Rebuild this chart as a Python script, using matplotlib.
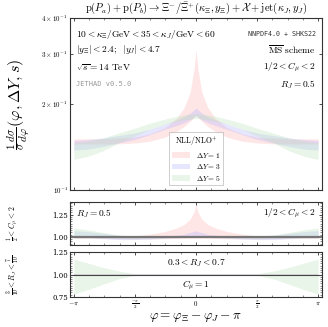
import numpy as np
import matplotlib
matplotlib.use("Agg")
import matplotlib.pyplot as plt
from matplotlib.patches import Patch
from matplotlib.ticker import FixedLocator, NullLocator, MultipleLocator

plt.rcParams['mathtext.fontset'] = 'cm'
plt.rcParams['font.family'] = ['DejaVu Serif']

# ---------------- data ----------------
phi = [-3.1416, -2.8, -2.4, -2.0, -1.6, -1.2, -0.8, -0.5, -0.3, -0.15, -0.05, 0.0,
       0.05, 0.15, 0.3, 0.5, 0.8, 1.2, 1.6, 2.0, 2.4, 2.8, 3.1416]

dy1_hi = [0.151, 0.151, 0.151, 0.152, 0.153, 0.157, 0.165, 0.178, 0.195, 0.220, 0.265, 0.310,
          0.265, 0.220, 0.195, 0.178, 0.165, 0.157, 0.153, 0.152, 0.151, 0.151, 0.151]
dy1_lo = [0.145, 0.145, 0.145, 0.145, 0.146, 0.148, 0.153, 0.160, 0.167, 0.174, 0.180, 0.183,
          0.180, 0.174, 0.167, 0.160, 0.153, 0.148, 0.146, 0.145, 0.145, 0.145, 0.145]
dy3_hi = [0.149, 0.150, 0.152, 0.155, 0.158, 0.163, 0.170, 0.176, 0.181, 0.186, 0.191, 0.194,
          0.191, 0.186, 0.181, 0.176, 0.170, 0.163, 0.158, 0.155, 0.152, 0.150, 0.149]
dy3_lo = [0.138, 0.139, 0.142, 0.146, 0.150, 0.156, 0.163, 0.168, 0.172, 0.176, 0.180, 0.182,
          0.180, 0.176, 0.172, 0.168, 0.163, 0.156, 0.150, 0.146, 0.142, 0.139, 0.138]
dy5_hi = [0.146, 0.148, 0.152, 0.158, 0.164, 0.171, 0.177, 0.181, 0.183, 0.184, 0.185, 0.185,
          0.185, 0.184, 0.183, 0.181, 0.177, 0.171, 0.164, 0.158, 0.152, 0.148, 0.146]
dy5_lo = [0.128, 0.131, 0.137, 0.146, 0.154, 0.163, 0.170, 0.174, 0.176, 0.177, 0.178, 0.178,
          0.178, 0.177, 0.176, 0.174, 0.170, 0.163, 0.154, 0.146, 0.137, 0.131, 0.128]

# ratio: 1/2 < C_mu < 2
mu1_hi = [1.000, 1.000, 1.000, 1.005, 1.010, 1.030, 1.060, 1.100, 1.140, 1.200, 1.280, 1.370,
          1.280, 1.200, 1.140, 1.100, 1.060, 1.030, 1.010, 1.005, 1.000, 1.000, 1.000]
mu1_lo = [0.985, 0.985, 0.983, 0.980, 0.978, 0.978, 0.980, 0.982, 0.984, 0.985, 0.985, 0.985,
          0.985, 0.985, 0.984, 0.982, 0.980, 0.978, 0.978, 0.980, 0.983, 0.985, 0.985]
mu3_hi = [1.070, 1.060, 1.040, 1.020, 1.010, 1.010, 1.010, 1.020, 1.030, 1.050, 1.060, 1.070,
          1.060, 1.050, 1.030, 1.020, 1.010, 1.010, 1.010, 1.020, 1.040, 1.060, 1.070]
mu3_lo = [0.990, 0.990, 0.980, 0.970, 0.970, 0.975, 0.985, 0.990, 0.995, 1.000, 1.000, 1.000,
          1.000, 1.000, 0.995, 0.990, 0.985, 0.975, 0.970, 0.970, 0.980, 0.990, 0.990]
mu5_hi = [1.100, 1.080, 1.050, 1.020, 1.005, 1.000, 1.000, 1.000, 1.000, 1.000, 1.000, 1.000,
          1.000, 1.000, 1.000, 1.000, 1.000, 1.000, 1.005, 1.020, 1.050, 1.080, 1.100]
mu5_lo = [1.000, 0.995, 0.990, 0.985, 0.980, 0.985, 0.990, 0.995, 0.995, 0.995, 0.995, 0.995,
          0.995, 0.995, 0.995, 0.995, 0.990, 0.985, 0.980, 0.985, 0.990, 0.995, 1.000]

# ratio: 0.3 < R_J < 0.7
rj1_hi = [1.005] * 23
rj1_lo = [0.995] * 23
rj3_hi = [1.010] * 23
rj3_lo = [0.990] * 23
rj5_hi = [1.170, 1.130, 1.080, 1.040, 1.010, 1.010, 1.010, 1.010, 1.010, 1.010, 1.010, 1.010,
          1.010, 1.010, 1.010, 1.010, 1.010, 1.010, 1.010, 1.040, 1.080, 1.130, 1.170]
rj5_lo = [0.780, 0.830, 0.890, 0.950, 0.990, 0.990, 0.990, 0.990, 0.990, 0.990, 0.990, 0.990,
          0.990, 0.990, 0.990, 0.990, 0.990, 0.990, 0.990, 0.950, 0.890, 0.830, 0.780]

labels = [r"$\Delta Y = 1$", r"$\Delta Y = 3$", r"$\Delta Y = 5$"]
colors = ['#ffb3b3', '#b3b3ff', '#b8e0b8']
alpha = 0.32

xticks = [-np.pi, -np.pi / 2, 0, np.pi / 2, np.pi]
xticklabels = [r"$-\pi$", r"$\frac{-\pi}{2}$", r"$0$", r"$\frac{\pi}{2}$", r"$\pi$"]

# ---------------- figure ----------------
fig = plt.figure(figsize=(3.28, 3.27), dpi=100)
L, W = 0.213, 0.769
ax = fig.add_axes([L, 0.419, W, 0.526])
ax2 = fig.add_axes([L, 0.251, W, 0.131])
ax3 = fig.add_axes([L, 0.092, W, 0.137])

frame_col = '#333333'


def style(a):
    a.set_xlim(-3.245, 3.245)
    for s in a.spines.values():
        s.set_color(frame_col)
        s.set_linewidth(0.8)
    a.tick_params(which='both', direction='in', top=True, right=True,
                  colors=frame_col, labelcolor='black', labelsize=5, pad=1.5)
    a.tick_params(which='major', length=2.5, width=0.6)
    a.tick_params(which='minor', length=1.3, width=0.4)
    a.xaxis.set_major_locator(FixedLocator(xticks))
    a.xaxis.set_minor_locator(MultipleLocator(np.pi / 8))


# main
ups = [dy1_hi, dy3_hi, dy5_hi]
los = [dy1_lo, dy3_lo, dy5_lo]
for hi, lo, c in zip(ups, los, colors):
    ax.fill_between(phi, lo, hi, color=c, alpha=alpha, lw=0)
style(ax)
ax.set_yscale('log')
ax.set_ylim(0.1, 0.4)
ax.yaxis.set_major_locator(FixedLocator([0.1, 0.2, 0.3, 0.4]))
ax.set_yticklabels([r"$10^{-1}$", r"$2\times10^{-1}$", r"$3\times10^{-1}$", r"$4\times10^{-1}$"])
ax.yaxis.set_minor_locator(NullLocator())
ax.set_xticklabels([])
ax.set_ylabel(r"$\frac{1}{\sigma}\frac{d\sigma}{d\varphi}(\varphi, \Delta Y, s)$", fontsize=11.5)

ax.set_title(r"$\mathrm{p}(P_a) + \mathrm{p}(P_b) \to \Xi^{-}/\bar{\Xi}^{+}(\kappa_\Xi, y_\Xi) + \mathcal{X} + \mathrm{jet}(\kappa_J, y_J)$",
             fontsize=7.6, pad=5)

tk = dict(transform=ax.transAxes, fontsize=6.8, va='center')
ax.text(0.025, 0.905, r"$10 < \kappa_\Xi/\mathrm{GeV} < 35 < \kappa_J/\mathrm{GeV} < 60$", ha='left', **tk)
ax.text(0.025, 0.815, r"$|y_\Xi| < 2.4;\;\; |y_J| < 4.7$", ha='left', **tk)
ax.text(0.025, 0.71, r"$\sqrt{s} = 14\ \mathrm{TeV}$", ha='left', **tk)
ax.text(0.025, 0.615, "JETHAD v0.5.0", ha='left', transform=ax.transAxes, fontsize=5,
        va='center', family='DejaVu Sans Mono', color='#999999')
ax.text(0.975, 0.905, "NNPDF4.0 + SHKS22", ha='right', transform=ax.transAxes, fontsize=4.8,
        va='center', family='DejaVu Sans Mono', color='#333333')
ax.text(0.975, 0.815, r"$\overline{\mathrm{MS}}\ \mathrm{scheme}$", ha='right', **tk)
ax.text(0.975, 0.71, r"$1/2 < C_\mu < 2$", ha='right', **tk)
ax.text(0.975, 0.615, r"$R_J = 0.5$", ha='right', **tk)

handles = [Patch(facecolor=c, alpha=alpha, edgecolor='none') for c in colors]
leg = ax.legend(handles, labels, loc='lower center', bbox_to_anchor=(0.5, 0.005),
                title=r"$\mathrm{NLL/NLO}^{+}$", fontsize=5.4, title_fontsize=5.6,
                frameon=True, fancybox=False, edgecolor='#aaaaaa', handlelength=2.4,
                handleheight=0.8, labelspacing=0.35, borderpad=0.35, handletextpad=0.8)
leg.get_frame().set_linewidth(0.5)

# middle ratio
for hi, lo, c in zip([mu1_hi, mu3_hi, mu5_hi], [mu1_lo, mu3_lo, mu5_lo], colors):
    ax2.fill_between(phi, lo, hi, color=c, alpha=alpha, lw=0)
ax2.axhline(1.0, color='#777777', lw=1.6)
style(ax2)
ax2.set_ylim(0.91, 1.39)
ax2.yaxis.set_major_locator(FixedLocator([1.0, 1.25]))
ax2.yaxis.set_minor_locator(MultipleLocator(0.025))
ax2.set_yticklabels(["1.00", "1.25"])
ax2.set_xticklabels([])
ax2.set_ylabel(r"$\frac{1}{2} < C_\mu < 2$", fontsize=5.5)
ax2.text(0.025, 0.74, r"$R_J = 0.5$", transform=ax2.transAxes, fontsize=6.8, ha='left', va='center')
ax2.text(0.975, 0.74, r"$1/2 < C_\mu < 2$", transform=ax2.transAxes, fontsize=6.8, ha='right', va='center')

# bottom ratio
for hi, lo, c in zip([rj1_hi, rj3_hi, rj5_hi], [rj1_lo, rj3_lo, rj5_lo], colors):
    ax3.fill_between(phi, lo, hi, color=c, alpha=alpha, lw=0)
ax3.axhline(1.0, color='#444444', lw=0.8)
style(ax3)
ax3.set_ylim(0.75, 1.25)
ax3.yaxis.set_major_locator(FixedLocator([0.75, 1.0, 1.25]))
ax3.yaxis.set_minor_locator(MultipleLocator(0.025))
ax3.set_yticklabels(["0.75", "1.00", "1.25"])
ax3.set_xticklabels(xticklabels)
ax3.set_ylabel(r"$\frac{3}{10} < R_J < \frac{7}{10}$", fontsize=5.5)
ax3.text(0.5, 0.76, r"$0.3 < R_J < 0.7$", transform=ax3.transAxes, fontsize=6.8, ha='center', va='center')
ax3.text(0.5, 0.25, r"$C_\mu = 1$", transform=ax3.transAxes, fontsize=6.8, ha='center', va='center')
ax3.set_xlabel(r"$\varphi = \varphi_\Xi - \varphi_J - \pi$", fontsize=9.5, labelpad=0)

for a in (ax2, ax3):
    a.yaxis.set_label_coords(-0.19, 0.5)
ax.yaxis.set_label_coords(-0.15, 0.5)

fig.savefig("out.png", dpi=100)
